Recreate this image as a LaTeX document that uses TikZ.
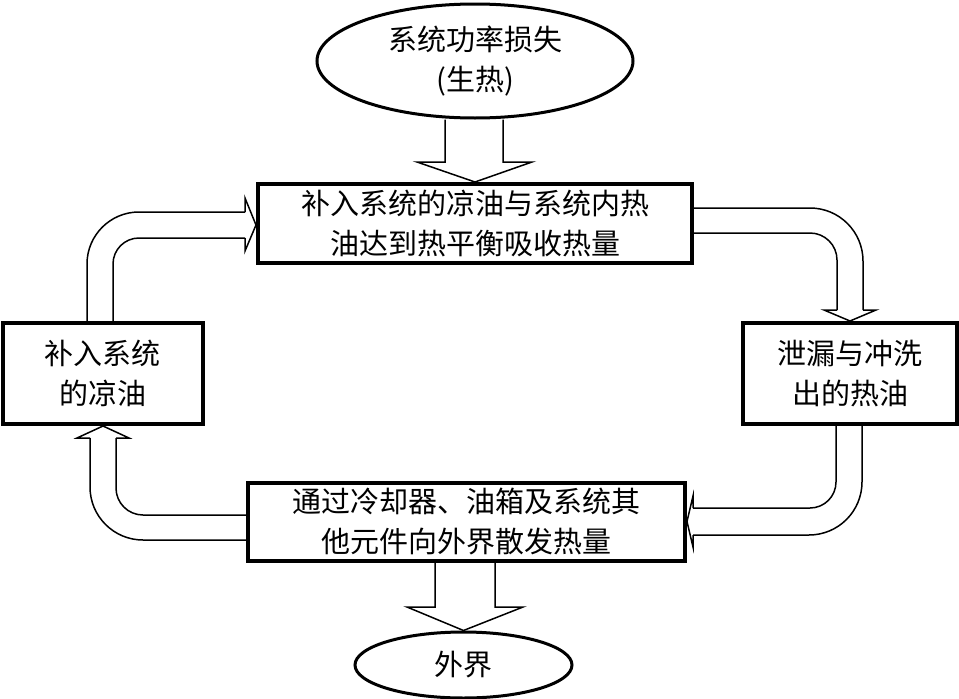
\documentclass[tikz,border=0pt]{standalone}
\usepackage{fontspec}
\newfontfamily\cjkfont{Noto Sans CJK SC}
\usetikzlibrary{shapes.geometric,calc}
\begin{document}
\begin{tikzpicture}[x=1pt,y=-1pt,
  box/.style={draw,line width=4pt,rectangle,inner sep=0pt,align=center,
    font=\cjkfont\fontsize{29}{40}\selectfont},
  oval/.style={draw,line width=3pt,ellipse,inner sep=0pt,align=center,
    font=\cjkfont\fontsize{29}{40}\selectfont},
  harrow/.style={line width=1.5pt,line join=miter}]
\useasboundingbox (0,0) rectangle (959,699);

% nodes
\node[oval,minimum width=316pt,minimum height=114pt] (top) at (475,61) {系统功率损失\\(生热)};
\node[box,minimum width=434pt,minimum height=79pt] (b1) at (475,223.5) {补入系统的凉油与系统内热\\油达到热平衡吸收热量};
\node[box,minimum width=200pt,minimum height=101pt] (lb) at (103,373.5) {补入系统\\的凉油};
\node[box,minimum width=214pt,minimum height=101pt] (rb) at (850,373.5) {泄漏与冲洗\\出的热油};
\node[box,minimum width=437pt,minimum height=78pt] (b2) at (466.5,522) {通过冷却器、油箱及系统其\\他元件向外界散发热量};
\node[oval,minimum width=217pt,minimum height=66pt] (bot) at (463.5,665) {外界};

% top hollow arrow: top -> b1
\draw[harrow] (445,0 |- top.south) -- (445,162) -- (417,162) -- (b1.north)
  -- (532,162) -- (503,162) -- (503,0 |- top.south);

% bottom hollow arrow: b2 -> bot
\draw[harrow] (435,0 |- b2.south) -- (435,607) -- (407,607) -- (bot.north)
  -- (523,607) -- (495,607) -- (495,0 |- b2.south);

% left: lb -> b1
\draw[harrow,rounded corners=52pt] (87,0 |- lb.north) -- (87,212) -- (245,212);
\draw[harrow] (245,212) -- (245,198) -- (b1.west |- 0,225) -- (245,251) -- (245,238);
\draw[harrow,rounded corners=26pt] (245,238) -- (113,238) -- (113,0 |- lb.north);

% right top: b1 -> rb
\draw[harrow,rounded corners=53pt] (b1.east |- 0,208) -- (863,208) -- (863,310);
\draw[harrow] (863,310) -- (876,310) -- (850,0 |- rb.north) -- (824,310) -- (837,310);
\draw[harrow,rounded corners=27pt] (837,310) -- (837,233) -- (b1.east |- 0,233);

% right bottom: rb -> b2
\draw[harrow,rounded corners=26pt] (836,0 |- rb.south) -- (836,508) -- (693,508);
\draw[harrow] (693,508) -- (693,496) -- (b2.east |- 0,521.5) -- (693,547) -- (693,535);
\draw[harrow,rounded corners=53pt] (693,535) -- (862,535) -- (862,0 |- rb.south);

% left bottom: b2 -> lb
\draw[harrow,rounded corners=27pt] (b2.west |- 0,515) -- (116,515) -- (116,438);
\draw[harrow] (116,438) -- (129,438) -- (103,0 |- lb.south) -- (77,438) -- (90,438);
\draw[harrow,rounded corners=53pt] (90,438) -- (90,540) -- (b2.west |- 0,540);
\end{tikzpicture}
\end{document}
